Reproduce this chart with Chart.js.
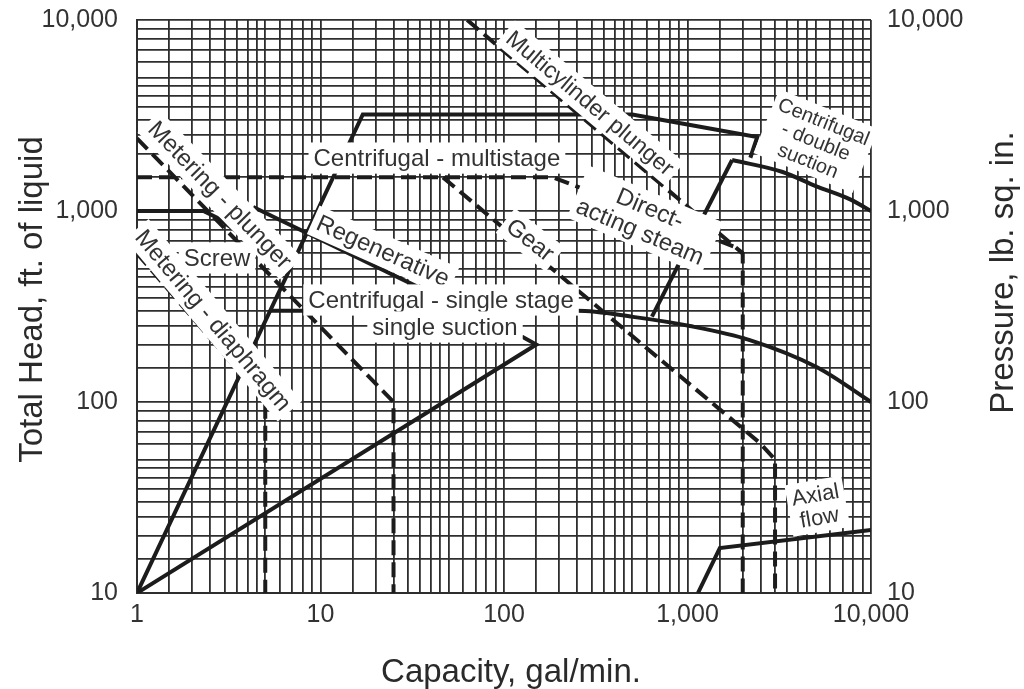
<!DOCTYPE html>
<html>
<head>
<meta charset="utf-8">
<script src="https://cdn.jsdelivr.net/npm/chart.js@4.4.0/dist/chart.umd.min.js"></script>
<style>
  html, body { margin: 0; padding: 0; background: #fff; }
  #wrap { width: 1024px; height: 689px; position: relative; }
</style>
</head>
<body>
<div id="wrap"><canvas id="pumpChart"></canvas></div>
<script>
// axis ticks (both axes are log, grid at these steps in every decade)
const majorTicks = [1, 10, 100, 1000, 10000];
const minorSteps = [1, 1.5, 2, 2.5, 3, 3.5, 4, 4.5, 5, 6, 7, 8, 9];

// capacity (gal/min) / total head (ft) for each boundary line
const diaphragmCap = [1, 5, 5];
const diaphragmHead = [600, 100, 10];

const plungerCap = [1, 25, 25];
const plungerHead = [2400, 100, 10];

const screwCap = [1, 2.3, 2.75, 4.1];
const screwHead = [1000, 1000, 920, 700];

const regenCap = [4.3, 63];
const regenHead = [1050, 300];

const multistageCap = [1, 17, 500, 1170, 2400, 2200];
const multistageHead = [10, 3200, 3200, 2760, 2440, 1900];

const dsEdgeCap = [640, 1750];
const dsEdgeHead = [280, 1850];

const doubleSuctionCap = [1750, 3300, 5000, 7700, 10000];
const doubleSuctionHead = [1850, 1600, 1350, 1150, 1000];

const singleStageCap = [5.3, 250, 505, 1030, 2185, 5080, 10000];
const singleStageHead = [300, 300, 279, 250, 211, 152, 100];

const lowCap = [1, 150, 125];
const lowHead = [10, 200, 220];

const steamCap = [1, 185, 1800, 2000, 2000];
const steamHead = [1500, 1500, 650, 600, 10];

const multicylCap = [63, 2000];
const multicylHead = [10000, 600];

const gearCap = [46.5, 2480, 3000, 3000];
const gearHead = [1500, 61, 50, 10];

const axialCap = [1140, 1500, 10000];
const axialHead = [10, 17.2, 21.4];

// text placed on the chart, anchored in data units
const curveLabels = [
    { text: ['Multicylinder plunger'], cap: 294, head: 3670, angle: 40, size: 23 },
    { text: ['Centrifugal - multistage'], cap: 43.1, head: 1893, angle: 0, size: 24 },
    { text: ['Centrifugal', '- double', 'suction'], cap: 5010, head: 2325, angle: 22, size: 20 },
    { text: ['Metering - plunger'], cap: 2.83, head: 1213, angle: 46, size: 24 },
    { text: ['Regenerative'], cap: 21.9, head: 618, angle: 24, size: 24 },
    { text: ['Gear'], cap: 139, head: 705, angle: 38, size: 24 },
    { text: ['Direct-', 'acting steam'], cap: 587, head: 897, angle: 23, size: 24 },
    { text: ['Screw'], cap: 2.73, head: 568, angle: 0, size: 24 },
    { text: ['Centrifugal - single stage'], cap: 45.4, head: 342, angle: 0, size: 24 },
    { text: ['single suction'], cap: 47.7, head: 247, angle: 0, size: 24 },
    { text: ['Metering - diaphragm'], cap: 2.6, head: 268, angle: 50, size: 24 },
    { text: ['Axial', 'flow'], cap: 5100, head: 28.5, angle: -10, size: 22 }
];

const FONT = '"Liberation Sans", Arial, Helvetica, sans-serif';
const INK = '#1c1c1c';
const GRID = '#2e2e2e';

function pts(caps, heads) {
    return caps.map(function(c, i) { return { x: c, y: heads[i] }; });
}

function line(caps, heads, dashed, smooth) {
    return {
        data: pts(caps, heads),
        showLine: true,
        borderColor: INK,
        borderWidth: 4,
        borderDash: dashed ? [15, 7] : [],
        borderCapStyle: 'butt',
        borderJoinStyle: 'miter',
        cubicInterpolationMode: smooth ? 'monotone' : 'default',
        tension: 0,
        pointRadius: 0,
        fill: false
    };
}

function buildLogTicks(scale) {
    var ticks = [];
    majorTicks.slice(0, -1).forEach(function(d) {
        minorSteps.forEach(function(s) { ticks.push(d * s); });
    });
    ticks.push(majorTicks[majorTicks.length - 1]);
    scale.ticks = ticks.filter(function(v) {
        return v >= scale.min - 1e-9 && v <= scale.max + 1e-9;
    }).map(function(v) { return { value: v }; });
}

function tickLabel(value) {
    if (majorTicks.indexOf(value) < 0) return '';
    return String(value).replace(/\B(?=(\d{3})+(?!\d))/g, ',');
}

function axisOpts(extra, pad) {
    var o = {
        type: 'logarithmic',
        afterBuildTicks: buildLogTicks,
        grid: { color: GRID, lineWidth: 1.8, drawTicks: false },
        border: { color: GRID, width: 2 },
        ticks: {
            autoSkip: false, maxRotation: 0, minRotation: 0, padding: pad,
            color: '#333', font: { size: 25, family: FONT },
            callback: tickLabel
        }
    };
    return Object.assign(o, extra);
}

// fixed axis box sizes so the plot area lands where it does in the picture
function fixVertical(width) {
    return function(s) {
        s.width = width;
        s.paddingTop = 0;
        s.paddingBottom = 0;
    };
}

const labelPlugin = {
    id: 'curveLabels',
    afterDatasetsDraw: function(chart) {
        var ctx = chart.ctx, xs = chart.scales.x, ys = chart.scales.y;
        curveLabels.forEach(function(l) {
            var px = xs.getPixelForValue(l.cap), py = ys.getPixelForValue(l.head);
            ctx.save();
            ctx.translate(px, py);
            ctx.rotate(l.angle * Math.PI / 180);
            ctx.font = l.size + 'px ' + FONT;
            var lh = l.size * 1.05, w = 0;
            l.text.forEach(function(t) { w = Math.max(w, ctx.measureText(t).width); });
            var h = lh * l.text.length;
            ctx.fillStyle = '#fff';
            ctx.fillRect(-w / 2 - 5, -h / 2 - 3, w + 10, h + 6);
            ctx.fillStyle = '#333';
            ctx.textAlign = 'center';
            ctx.textBaseline = 'middle';
            l.text.forEach(function(t, i) { ctx.fillText(t, 0, -h / 2 + lh * (i + 0.5) + 1); });
            ctx.restore();
        });
    },
    afterDraw: function(chart) {
        var ctx = chart.ctx, a = chart.chartArea;
        ctx.save();
        ctx.fillStyle = '#2a2a2a';
        ctx.font = '33px ' + FONT;
        ctx.textAlign = 'center';
        ctx.textBaseline = 'alphabetic';
        ctx.fillText('Capacity, gal/min.', (a.left + a.right) / 2 + 7, a.bottom + 89);

        ctx.translate(a.left - 95, (a.top + a.bottom) / 2 - 7);
        ctx.rotate(-Math.PI / 2);
        ctx.fillText('Total Head, ft. of liquid', 0, 0);
        ctx.restore();

        ctx.save();
        ctx.fillStyle = '#2a2a2a';
        ctx.font = '33px ' + FONT;
        ctx.textAlign = 'center';
        ctx.translate(a.right + 142, (a.top + a.bottom) / 2 - 34);
        ctx.rotate(-Math.PI / 2);
        ctx.fillText('Pressure, lb. sq. in.', 0, 0);
        ctx.restore();
    }
};

new Chart(document.getElementById('pumpChart').getContext('2d'), {
    type: 'scatter',
    data: {
        datasets: [
            line(diaphragmCap, diaphragmHead, true),
            line(plungerCap, plungerHead, true),
            line(screwCap, screwHead, false),
            line(regenCap, regenHead, false),
            line(multistageCap, multistageHead, false),
            line(dsEdgeCap, dsEdgeHead, false),
            line(doubleSuctionCap, doubleSuctionHead, false, true),
            line(singleStageCap, singleStageHead, false, true),
            line(lowCap, lowHead, false),
            line(steamCap, steamHead, true),
            line(multicylCap, multicylHead, true),
            line(gearCap, gearHead, true),
            line(axialCap, axialHead, false)
        ]
    },
    options: {
        responsive: true,
        maintainAspectRatio: false,
        animation: false,
        layout: { padding: { top: 20, left: 0, right: 0, bottom: 0 } },
        plugins: { legend: { display: false }, tooltip: { enabled: false } },
        scales: {
            x: axisOpts({
                position: 'bottom', min: 1, max: 10000,
                afterFit: function(s) { s.height = 96; }
            }, 7),
            y: axisOpts({
                position: 'left', min: 10, max: 10000,
                afterFit: fixVertical(137)
            }, 19),
            y2: axisOpts({
                position: 'right', min: 10, max: 10000,
                grid: { display: false, drawTicks: false },
                border: { display: false },
                afterFit: fixVertical(153)
            }, 16)
        }
    },
    plugins: [labelPlugin]
});
</script>
</body>
</html>
